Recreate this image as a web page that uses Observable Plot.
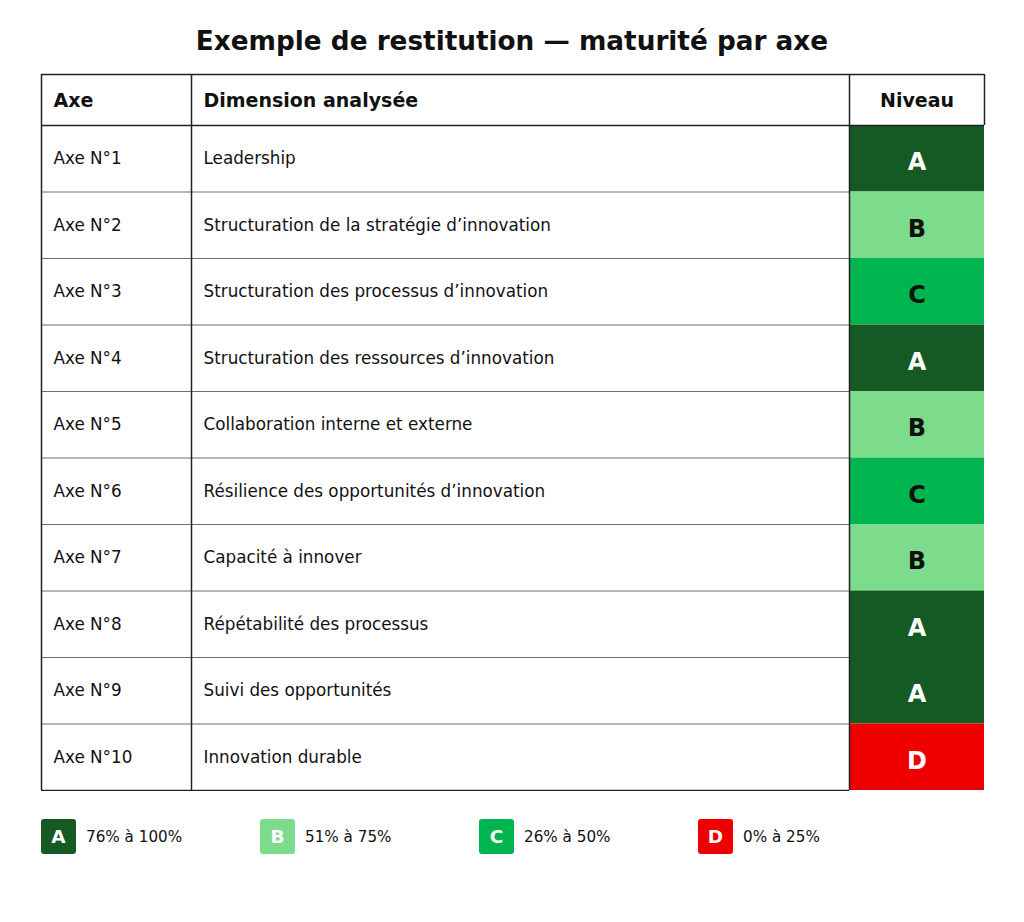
<!DOCTYPE html>
<html><head><meta charset="utf-8">
<script src="https://cdn.jsdelivr.net/npm/d3@7"></script>
<script src="https://cdn.jsdelivr.net/npm/@observablehq/plot@0.6"></script>
<style>
body{margin:0;background:#fff;font-family:"DejaVu Sans",sans-serif;}
#title{height:73px;box-sizing:border-box;padding-top:25px;line-height:32px;text-align:center;font-weight:bold;font-size:26.3px;color:#111;}
#chart svg{display:block;}
#legend{margin-top:28px;padding-left:41px;display:flex;}
.item{width:219px;display:flex;align-items:center;}
.sw{width:35px;height:35px;border-radius:3px;color:#fff;font-weight:bold;font-size:18.5px;display:flex;align-items:center;justify-content:center;}
.lab{margin-left:10px;font-size:15.2px;color:#111;}
</style></head><body>
<div id="title"></div><div id="chart"></div><div id="legend"></div>
<script>
const titleText = "Exemple de restitution — maturité par axe";
const headers = ["Axe", "Dimension analysée", "Niveau"];
const axes = ["Axe N°1","Axe N°2","Axe N°3","Axe N°4","Axe N°5","Axe N°6","Axe N°7","Axe N°8","Axe N°9","Axe N°10"];
const dimensions = [
  "Leadership",
  "Structuration de la stratégie d’innovation",
  "Structuration des processus d’innovation",
  "Structuration des ressources d’innovation",
  "Collaboration interne et externe",
  "Résilience des opportunités d’innovation",
  "Capacité à innover",
  "Répétabilité des processus",
  "Suivi des opportunités",
  "Innovation durable"
];
const levels = ["A","B","C","A","B","C","B","A","A","D"];
const levelCodes = ["A","B","C","D"];
const levelRanges = ["76% à 100%","51% à 75%","26% à 50%","0% à 25%"];
const levelColors = ["#155a25","#7ddc8b","#00b450","#ee0000"];
const darkLevels = ["A","D"];

// layout
const W = 1024, tableW = 943, headerH = 51, rowH = 66.5, pad = 12;
const colEdges = [0, 150, 808, 943];
const tableH = headerH + rowH * axes.length;
const rows = axes.map((a, i) => ({axe: a, dim: dimensions[i], level: levels[i],
  y1: headerH + i * rowH, y2: headerH + (i + 1) * rowH}));
const midY = d => (d.y1 + d.y2) / 2;
const levelMidX = (colEdges[2] + colEdges[3]) / 2;

document.getElementById("title").textContent = titleText;

const chart = Plot.plot({
  width: W, height: tableH + 2,
  marginLeft: 41, marginRight: 40, marginTop: 1, marginBottom: 1,
  x: {domain: [0, tableW], axis: null},
  y: {domain: [0, tableH], reverse: true, axis: null},
  color: {domain: levelCodes, range: levelColors},
  style: {fontFamily: "DejaVu Sans", color: "#111", background: "#fff"},
  marks: [
    Plot.rect(rows, {x1: colEdges[2], x2: colEdges[3], y1: "y1", y2: "y2", fill: "level"}),
    Plot.ruleY(rows.slice(0, -1), {y: "y2", x1: colEdges[0], x2: colEdges[2], stroke: "#6e6e6e", strokeWidth: 1}),
    Plot.ruleY([0, headerH], {x1: colEdges[0], x2: colEdges[3], stroke: "#222", strokeWidth: 1.5}),
    Plot.ruleY([tableH], {x1: colEdges[0], x2: colEdges[2], stroke: "#222", strokeWidth: 1.5}),
    Plot.ruleX(colEdges.slice(0, 3), {y1: 0, y2: tableH, stroke: "#222", strokeWidth: 1.5}),
    Plot.ruleX([colEdges[3]], {y1: 0, y2: headerH, stroke: "#222", strokeWidth: 1.5}),
    Plot.text(headers.slice(0, 2), {x: (d, i) => colEdges[i] + pad, y: headerH / 2, text: d => d,
      textAnchor: "start", fontSize: 19, fontWeight: "bold", fill: "#111", dy: 1}),
    Plot.text(headers.slice(2), {x: levelMidX, y: headerH / 2, text: d => d,
      textAnchor: "middle", fontSize: 19, fontWeight: "bold", fill: "#111", dy: 1}),
    Plot.text(rows, {x: colEdges[0] + pad, y: midY, text: "axe", textAnchor: "start", fontSize: 16.8, fill: "#111"}),
    Plot.text(rows, {x: colEdges[1] + pad, y: midY, text: "dim", textAnchor: "start", fontSize: 16.8, fill: "#111"}),
    Plot.text(rows.filter(d => darkLevels.includes(d.level)), {x: levelMidX, y: midY, text: "level",
      fontSize: 24, fontWeight: "bold", fill: "#fff", dy: 4}),
    Plot.text(rows.filter(d => !darkLevels.includes(d.level)), {x: levelMidX, y: midY, text: "level",
      fontSize: 24, fontWeight: "bold", fill: "#111", dy: 4})
  ]
});
document.getElementById("chart").append(chart);

const legend = document.getElementById("legend");
levelCodes.forEach((c, i) => {
  const item = document.createElement("div"); item.className = "item";
  const sw = document.createElement("div"); sw.className = "sw";
  sw.style.background = levelColors[i]; sw.textContent = c;
  const lab = document.createElement("div"); lab.className = "lab"; lab.textContent = levelRanges[i];
  item.append(sw, lab); legend.append(item);
});
</script>
</body></html>
